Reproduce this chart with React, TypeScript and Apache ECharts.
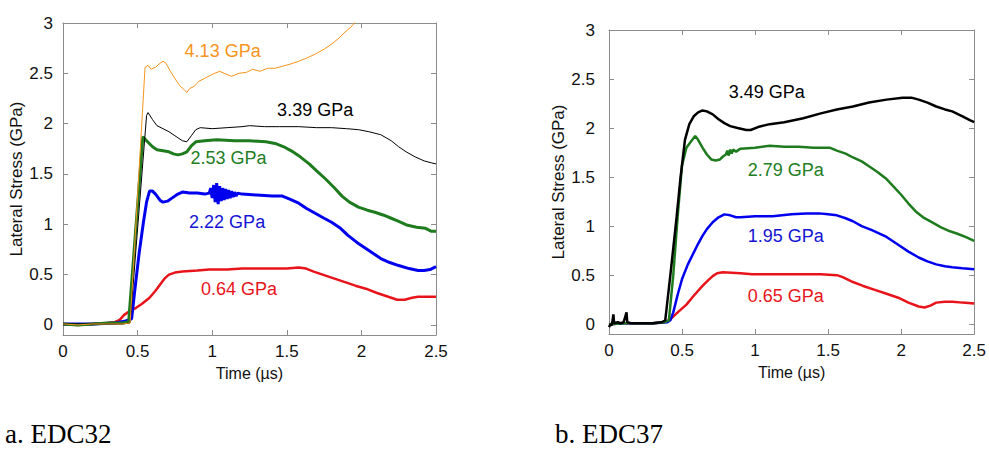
import React, { useEffect, useRef } from 'react';
import * as echarts from 'echarts';

// ---------- Panel a: EDC32 (time µs, lateral stress GPa) ----------
const a_413: number[][] = [[0,0.01],[0.1,0.0],[0.2,0.01],[0.3,0.01],[0.4,0.01],[0.45,0.02],[0.55,2.56],[0.57,2.58],[0.59,2.54],[0.62,2.56],[0.65,2.6],[0.67,2.62],[0.69,2.6],[0.72,2.52],[0.75,2.45],[0.78,2.38],[0.81,2.34],[0.83,2.31],[0.85,2.35],[0.88,2.37],[0.91,2.42],[0.95,2.45],[1.0,2.49],[1.05,2.52],[1.08,2.5],[1.13,2.47],[1.18,2.5],[1.23,2.51],[1.27,2.54],[1.32,2.52],[1.37,2.55],[1.42,2.55],[1.47,2.57],[1.52,2.59],[1.58,2.62],[1.63,2.65],[1.69,2.69],[1.75,2.74],[1.8,2.79],[1.85,2.85],[1.89,2.91],[1.93,2.96],[1.96,3.01],[1.98,3.05]];
const a_339: number[][] = [[0,0.01],[0.2,0.01],[0.4,0.01],[0.45,0.02],[0.56,2.08],[0.57,2.11],[0.6,2.04],[0.63,1.98],[0.67,1.95],[0.71,1.92],[0.75,1.88],[0.8,1.83],[0.83,1.82],[0.86,1.88],[0.89,1.94],[0.92,1.96],[1.0,1.95],[1.1,1.96],[1.2,1.97],[1.25,1.98],[1.35,1.97],[1.45,1.97],[1.58,1.97],[1.7,1.96],[1.8,1.96],[1.9,1.95],[1.98,1.94],[2.05,1.92],[2.13,1.89],[2.2,1.83],[2.25,1.77],[2.3,1.72],[2.36,1.67],[2.42,1.63],[2.47,1.61],[2.5,1.6]];
const a_253: number[][] = [[0,0.01],[0.1,0.0],[0.2,0.01],[0.3,0.02],[0.4,0.02],[0.44,0.03],[0.535,1.87],[0.56,1.83],[0.6,1.77],[0.63,1.74],[0.67,1.73],[0.71,1.72],[0.74,1.7],[0.77,1.69],[0.8,1.7],[0.83,1.72],[0.86,1.78],[0.89,1.82],[0.95,1.83],[1.03,1.84],[1.15,1.83],[1.25,1.83],[1.36,1.82],[1.43,1.8],[1.48,1.77],[1.53,1.73],[1.59,1.67],[1.65,1.6],[1.7,1.53],[1.76,1.45],[1.82,1.36],[1.87,1.28],[1.92,1.22],[1.98,1.17],[2.04,1.14],[2.09,1.12],[2.15,1.09],[2.2,1.06],[2.25,1.03],[2.31,0.99],[2.37,0.97],[2.43,0.96],[2.47,0.93],[2.5,0.93]];
const a_222: number[][] = [[0,0.01],[0.2,0.01],[0.35,0.02],[0.42,0.04],[0.46,0.06],[0.48,0.33],[0.51,0.71],[0.54,1.03],[0.56,1.22],[0.58,1.33],[0.6,1.33],[0.62,1.3],[0.65,1.24],[0.67,1.22],[0.7,1.23],[0.73,1.26],[0.77,1.3],[0.8,1.32],[0.85,1.31],[0.9,1.31],[0.95,1.3],[0.98,1.31],[0.99,1.36],[1.0,1.26],[1.01,1.39],[1.02,1.22],[1.03,1.41],[1.04,1.2],[1.05,1.38],[1.06,1.23],[1.07,1.36],[1.08,1.24],[1.09,1.35],[1.1,1.25],[1.11,1.34],[1.12,1.26],[1.13,1.33],[1.14,1.27],[1.15,1.32],[1.16,1.28],[1.17,1.31],[1.2,1.3],[1.3,1.29],[1.4,1.28],[1.47,1.28],[1.52,1.25],[1.58,1.21],[1.63,1.16],[1.69,1.11],[1.75,1.06],[1.8,1.02],[1.86,0.96],[1.91,0.89],[1.97,0.82],[2.03,0.76],[2.08,0.71],[2.13,0.66],[2.19,0.62],[2.25,0.59],[2.32,0.56],[2.38,0.54],[2.42,0.54],[2.46,0.55],[2.5,0.58]];
const a_064: number[][] = [[0,0.01],[0.1,0.0],[0.2,0.01],[0.3,0.02],[0.35,0.03],[0.38,0.05],[0.41,0.1],[0.45,0.14],[0.49,0.17],[0.53,0.21],[0.58,0.27],[0.62,0.34],[0.65,0.4],[0.68,0.46],[0.71,0.5],[0.75,0.52],[0.8,0.53],[0.9,0.54],[0.98,0.55],[1.1,0.55],[1.2,0.56],[1.3,0.56],[1.4,0.56],[1.5,0.56],[1.58,0.57],[1.63,0.56],[1.68,0.53],[1.74,0.5],[1.8,0.47],[1.88,0.43],[1.96,0.39],[2.03,0.36],[2.1,0.32],[2.18,0.28],[2.24,0.25],[2.29,0.25],[2.34,0.27],[2.38,0.28],[2.44,0.28],[2.5,0.28]];

// ---------- Panel b: EDC37 ----------
const b_349: number[][] = [[0,-0.03],[0.01,0.0],[0.02,-0.01],[0.03,0.1],[0.035,0.01],[0.06,0.02],[0.08,0.01],[0.1,0.02],[0.12,0.12],[0.125,0.02],[0.15,0.01],[0.2,0.01],[0.3,0.01],[0.36,0.02],[0.385,0.04],[0.42,0.5],[0.46,1.05],[0.49,1.5],[0.52,1.88],[0.55,2.04],[0.58,2.12],[0.61,2.16],[0.64,2.18],[0.67,2.17],[0.71,2.14],[0.75,2.09],[0.79,2.05],[0.83,2.02],[0.88,2.0],[0.94,1.98],[0.97,1.98],[1.02,2.01],[1.1,2.04],[1.2,2.06],[1.33,2.1],[1.45,2.15],[1.56,2.19],[1.67,2.22],[1.78,2.26],[1.9,2.29],[2.01,2.31],[2.07,2.31],[2.12,2.29],[2.18,2.26],[2.24,2.22],[2.3,2.19],[2.35,2.17],[2.42,2.12],[2.47,2.08],[2.5,2.06]];
const b_279: number[][] = [[0,0.0],[0.1,0.01],[0.2,0.01],[0.3,0.01],[0.38,0.02],[0.41,0.04],[0.44,0.5],[0.47,1.1],[0.5,1.62],[0.53,1.8],[0.56,1.86],[0.59,1.92],[0.61,1.88],[0.64,1.8],[0.67,1.73],[0.7,1.68],[0.73,1.67],[0.76,1.68],[0.78,1.71],[0.8,1.73],[0.81,1.77],[0.82,1.72],[0.83,1.78],[0.84,1.74],[0.85,1.78],[0.87,1.76],[0.9,1.79],[1.0,1.8],[1.1,1.82],[1.2,1.81],[1.3,1.81],[1.4,1.8],[1.51,1.8],[1.56,1.77],[1.62,1.74],[1.67,1.7],[1.73,1.66],[1.78,1.61],[1.84,1.55],[1.9,1.48],[1.95,1.4],[2.0,1.32],[2.05,1.23],[2.1,1.15],[2.15,1.09],[2.21,1.04],[2.27,0.99],[2.33,0.95],[2.39,0.92],[2.44,0.89],[2.5,0.85]];
const b_195: number[][] = [[0,0.0],[0.1,0.01],[0.2,0.01],[0.3,0.01],[0.4,0.02],[0.42,0.04],[0.44,0.12],[0.47,0.3],[0.5,0.46],[0.54,0.61],[0.58,0.73],[0.61,0.82],[0.64,0.9],[0.67,0.97],[0.71,1.04],[0.75,1.09],[0.79,1.12],[0.83,1.11],[0.87,1.09],[0.9,1.09],[1.0,1.1],[1.12,1.1],[1.25,1.12],[1.35,1.13],[1.44,1.13],[1.5,1.12],[1.56,1.11],[1.62,1.08],[1.67,1.05],[1.73,1.0],[1.8,0.96],[1.9,0.89],[1.98,0.81],[2.05,0.74],[2.12,0.68],[2.18,0.64],[2.24,0.61],[2.3,0.59],[2.35,0.58],[2.42,0.57],[2.5,0.56]];
const b_065: number[][] = [[0,0.0],[0.1,0.01],[0.2,0.01],[0.3,0.01],[0.38,0.02],[0.42,0.05],[0.47,0.12],[0.53,0.2],[0.58,0.29],[0.64,0.39],[0.68,0.45],[0.71,0.49],[0.74,0.52],[0.78,0.53],[0.9,0.52],[0.98,0.51],[1.1,0.51],[1.3,0.51],[1.45,0.51],[1.56,0.5],[1.6,0.48],[1.67,0.43],[1.74,0.39],[1.82,0.35],[1.9,0.31],[1.98,0.27],[2.05,0.22],[2.12,0.18],[2.16,0.17],[2.2,0.19],[2.24,0.22],[2.3,0.23],[2.35,0.23],[2.42,0.22],[2.5,0.21]];

// Curve labels and where they sit (data coordinates)
const labelsA = ['4.13 GPa', '3.39 GPa', '2.53 GPa', '2.22 GPa', '0.64 GPa'];
const labelPosA: number[][] = [[1.07, 2.72], [1.69, 2.14], [1.11, 1.66], [1.1, 1.02], [1.18, 0.36]];
const labelsB = ['3.49 GPa', '2.79 GPa', '1.95 GPa', '0.65 GPa'];
const labelPosB: number[][] = [[1.08, 2.37], [1.21, 1.57], [1.21, 0.9], [1.21, 0.29]];

const xTicks = [0, 0.5, 1, 1.5, 2, 2.5];
const captions = ['a. EDC32', 'b. EDC37'];

const ORANGE = '#F7941D';
const BLACK = '#000000';
const GREEN = '#1E7B1E';
const BLUE = '#0000EE';
const RED = '#E8141B';
const SANS = '"Liberation Sans", Arial, sans-serif';
const SERIF = '"Liberation Serif", "Times New Roman", serif';
const FRAME = '#8c8c8c';

function series(data: number[][], color: string, width: number, idx: number, text: string, pos: number[], textColor: string, z: number) {
  return {
    type: 'line',
    xAxisIndex: idx * 2,
    yAxisIndex: idx * 2,
    data,
    showSymbol: false,
    symbol: 'none',
    z,
    lineStyle: { color, width },
    clip: true,
    markPoint: {
      symbol: 'circle',
      symbolSize: 0,
      silent: true,
      data: [{ coord: pos, value: text }],
      label: {
        show: true,
        position: 'inside',
        formatter: text,
        color: textColor,
        fontSize: 18,
        fontFamily: SANS,
      },
    },
  };
}

function xAxes(grid: number, margin: number) {
  return [
    {
      type: 'value', gridIndex: grid, min: xTicks[0], max: xTicks[xTicks.length - 1], interval: xTicks[1] - xTicks[0], position: 'bottom',
      axisLine: { show: true, onZero: false, lineStyle: { color: FRAME, width: 1 } },
      axisTick: { show: true, inside: true, length: 5, lineStyle: { color: FRAME } },
      axisLabel: { color: '#111', fontSize: 17, fontFamily: SANS, margin },
      splitLine: { show: false },
      name: 'Time (\u00b5s)', nameLocation: 'middle', nameGap: 30,
      nameTextStyle: { color: '#111', fontSize: 16, fontFamily: SANS },
    },
    {
      type: 'value', gridIndex: grid, min: xTicks[0], max: xTicks[xTicks.length - 1], interval: xTicks[1] - xTicks[0], position: 'top',
      axisLine: { show: true, onZero: false, lineStyle: { color: FRAME, width: 1 } },
      axisTick: { show: true, inside: true, length: 5, lineStyle: { color: FRAME } },
      axisLabel: { show: false },
      splitLine: { show: false },
    },
  ];
}

function yAxes(grid: number, margin: number, nameGap: number) {
  const fmt = (v: number) => (v < -0.001 ? '' : String(v));
  return [
    {
      type: 'value', gridIndex: grid, min: -0.1, max: 3, splitNumber: 6, position: 'left',
      axisLine: { show: true, onZero: false, lineStyle: { color: FRAME, width: 1 } },
      axisTick: { show: true, inside: true, length: 5, lineStyle: { color: FRAME } },
      axisLabel: { color: '#111', fontSize: 17, fontFamily: SANS, margin, formatter: fmt },
      splitLine: { show: false },
      name: 'Lateral Stress (GPa)', nameLocation: 'middle', nameGap, nameRotate: 90,
      nameTextStyle: { color: '#111', fontSize: 17, fontFamily: SANS },
    },
    {
      type: 'value', gridIndex: grid, min: -0.1, max: 3, splitNumber: 6, position: 'right',
      axisLine: { show: true, onZero: false, lineStyle: { color: FRAME, width: 1 } },
      axisTick: { show: true, inside: true, length: 5, lineStyle: { color: FRAME } },
      axisLabel: { show: false },
      splitLine: { show: false },
    },
  ];
}

export default function App() {
  const ref = useRef<HTMLDivElement>(null);
  useEffect(() => {
    const chart = echarts.init(ref.current!, null, { renderer: 'svg' });
    const xa = [...xAxes(0, 8), ...xAxes(1, 8)];
    const ya = [...yAxes(0, 10, 32), ...yAxes(1, 14, 38)];
    const option: any = {
      animation: false,
      backgroundColor: '#ffffff',
      grid: [
        { left: 63, right: 553, top: 23, bottom: 125, containLabel: false },
        { left: 609, right: 14, top: 30, bottom: 126, containLabel: false },
      ],
      xAxis: xa,
      yAxis: ya,
      series: [
        series(a_064, RED, 2.5, 0, labelsA[4], labelPosA[4], RED, 2),
        series(a_222, BLUE, 3, 0, labelsA[3], labelPosA[3], '#1414D2', 3),
        series(a_253, GREEN, 3, 0, labelsA[2], labelPosA[2], '#237D23', 4),
        series(a_339, BLACK, 1, 0, labelsA[1], labelPosA[1], BLACK, 5),
        series(a_413, ORANGE, 1, 0, labelsA[0], labelPosA[0], ORANGE, 6),
        series(b_065, RED, 2.5, 1, labelsB[3], labelPosB[3], RED, 2),
        series(b_195, BLUE, 2.5, 1, labelsB[2], labelPosB[2], '#1414D2', 3),
        series(b_279, GREEN, 2.5, 1, labelsB[1], labelPosB[1], '#237D23', 4),
        series(b_349, BLACK, 2.5, 1, labelsB[0], labelPosB[0], BLACK, 5),
      ],
      graphic: [
        { type: 'text', left: 5, top: 420, style: { text: captions[0], fontSize: 27, fontFamily: SERIF, fill: '#000' } },
        { type: 'text', left: 555, top: 420, style: { text: captions[1], fontSize: 27, fontFamily: SERIF, fill: '#000' } },
      ],
    };
    chart.setOption(option);
    return () => chart.dispose();
  }, []);
  return <div ref={ref} style={{ position: 'fixed', left: 0, top: 0, width: 989, height: 460, background: '#fff' }} />;
}
